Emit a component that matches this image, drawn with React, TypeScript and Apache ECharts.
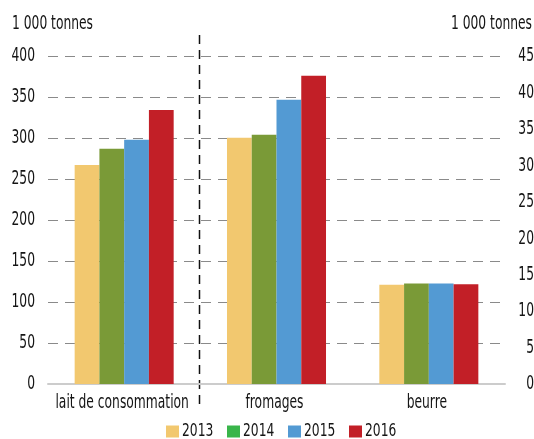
import React, { useEffect, useRef } from 'react';
import * as echarts from 'echarts';

const categories = ['lait de consommation', 'fromages', 'beurre'];
const years = ['2013', '2014', '2015', '2016'];
// left axis (lait de consommation)
const laitValues = [267, 287, 298, 334];
// right axis (fromages, beurre)
const fromagesValues = [33.8, 34.2, 39.0, 42.3];
const beurreValues = [13.6, 13.8, 13.8, 13.7];
const leftTicks = [0, 50, 100, 150, 200, 250, 300, 350, 400];
const rightTicks = [0, 5, 10, 15, 20, 25, 30, 35, 40, 45];
const barColors = ['#f2c86f', '#7a9a37', '#539ad3', '#c21f27'];
const legendColors = ['#f2c86f', '#39b54a', '#539ad3', '#c21f27'];
const unitLabel = '1 000 tonnes';

const FONT = "'DejaVu Sans Condensed', 'DejaVu Sans', sans-serif";
const TXT = '#141414';

function txt(text: string, x: number, y: number, align: string, fs = 19, sx = 0.72) {
  return {
    type: 'text',
    x,
    y,
    scaleX: sx,
    silent: true,
    style: {
      text,
      fontSize: fs,
      fontFamily: FONT,
      fill: TXT,
      align,
      textAlign: align,
      verticalAlign: 'middle',
      textVerticalAlign: 'middle',
    },
  };
}

export default function App() {
  const ref = useRef<HTMLDivElement>(null);
  useEffect(() => {
    if (!ref.current) return;
    const chart = echarts.init(ref.current, undefined, { renderer: 'svg' });
    const series: any[] = [];
    years.forEach((y, i) => {
      series.push({
        type: 'bar',
        name: y,
        stack: 's' + i,
        yAxisIndex: 0,
        data: [laitValues[i], null, null],
        itemStyle: { color: barColors[i] },
        barGap: '0%',
        barCategoryGap: '35%',
      });
      series.push({
        type: 'bar',
        name: y,
        stack: 's' + i,
        yAxisIndex: 1,
        data: [null, fromagesValues[i], beurreValues[i]],
        itemStyle: { color: barColors[i] },
        barGap: '0%',
        barCategoryGap: '35%',
      });
    });
    chart.setOption({
      animation: false,
      textStyle: { fontFamily: FONT },
      grid: { left: 48, right: 29, top: 56, bottom: 55 },
      xAxis: {
        type: 'category',
        data: categories,
        axisLine: { lineStyle: { color: '#cccccc', width: 2 } },
        axisTick: { show: false },
        axisLabel: { show: false },
      },
      yAxis: [
        {
          type: 'value',
          min: 0,
          max: 400,
          interval: 50,
          axisLine: { show: false },
          axisTick: { show: false },
          axisLabel: { show: false },
          splitLine: { lineStyle: { color: '#8a8a8a', type: [10, 7], width: 1 } },
        },
        {
          type: 'value',
          min: 0,
          max: 45,
          interval: 5,
          position: 'right',
          axisLine: { show: false },
          axisTick: { show: false },
          axisLabel: { show: false },
          splitLine: { show: false },
        },
      ],
      series,
    });

    const graphics: any[] = [];
    // divider between the left-axis and right-axis products
    const x0 = chart.convertToPixel({ xAxisIndex: 0 }, categories[0]) as number;
    const x1 = chart.convertToPixel({ xAxisIndex: 0 }, categories[1]) as number;
    const mid = Math.round((x0 + x1) / 2) - 0.5;
    graphics.push({
      type: 'line',
      silent: true,
      shape: { x1: mid, y1: 35, x2: mid, y2: 409 },
      style: { stroke: '#111', lineWidth: 1.5, lineDash: [9, 6] },
    });
    // tick labels
    leftTicks.forEach((v) => {
      const y = chart.convertToPixel({ yAxisIndex: 0 }, v) as number;
      graphics.push(txt(String(v), 35, y - 1, 'right'));
    });
    rightTicks.forEach((v) => {
      const y = chart.convertToPixel({ yAxisIndex: 1 }, v) as number;
      graphics.push(txt(String(v), 534, y - 1, 'right'));
    });
    categories.forEach((c) => {
      const x = chart.convertToPixel({ xAxisIndex: 0 }, c) as number;
      graphics.push(txt(c, x - 2, 402, 'center'));
    });
    // units
    graphics.push(txt(unitLabel, 12, 23, 'left'));
    graphics.push(txt(unitLabel, 532, 23, 'right'));
    // legend
    years.forEach((y, i) => {
      const lx = 166 + i * 61;
      graphics.push({
        type: 'rect',
        silent: true,
        shape: { x: lx, y: 425.5, width: 13, height: 12 },
        style: { fill: legendColors[i] },
      });
      graphics.push(txt(y, lx + 16, 429.5, 'left', 18, 0.76));
    });
    chart.setOption({ graphic: graphics });
    return () => chart.dispose();
  }, []);
  return (
    <div
      ref={ref}
      style={{ position: 'fixed', left: 0, top: 0, width: 534, height: 439 }}
    />
  );
}
